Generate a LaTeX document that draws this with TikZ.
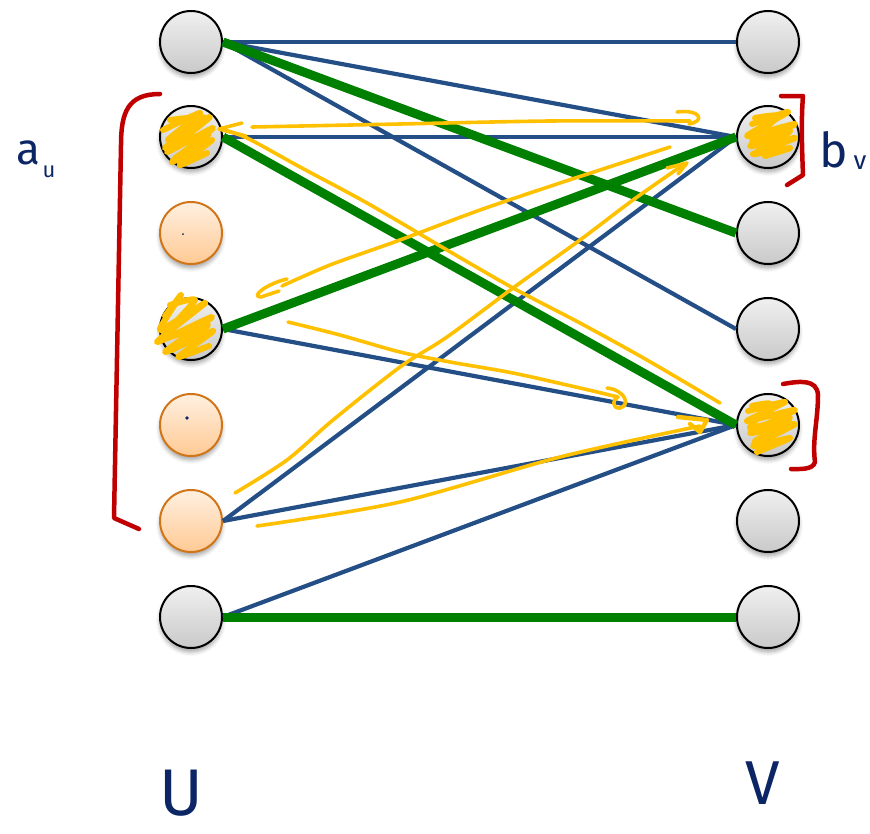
\documentclass[tikz,border=0pt]{standalone}
\usepackage{fontspec}
\newfontfamily\handfont{Fira Sans}
\usetikzlibrary{shadows.blur}
\definecolor{edgeblue}{HTML}{244F86}
\definecolor{matchgreen}{HTML}{008000}
\definecolor{marker}{HTML}{FFC000}
\definecolor{penred}{HTML}{C00000}
\definecolor{ink}{HTML}{0B2565}
\tikzset{
  vert/.style={circle, draw=black, line width=2pt, minimum size=62pt, inner sep=0pt,
    top color=gray!12, bottom color=gray!42,
    blur shadow={shadow xshift=0pt, shadow yshift=-4pt, shadow blur radius=4pt, shadow opacity=35}},
  freevert/.style={vert, draw=orange!80!black!90, top color=orange!12, bottom color=orange!42},
  plain/.style={draw=edgeblue, line width=4.2pt},
  matched/.style={draw=matchgreen, line width=9pt},
  scribble/.style={draw=marker, line width=6pt, line cap=round, line join=round},
  hint/.style={draw=marker, line width=3.6pt, line cap=round, line join=round},
  brace/.style={draw=penred, line width=4.5pt, line cap=round, line join=round},
  hand/.style={text=ink, inner sep=0pt}
}
\begin{document}
\begin{tikzpicture}[x=1pt, y=-1pt]
\useasboundingbox (0,0) rectangle (870,833);

% vertices of U and V
\foreach \i/\yy in {1/42,2/137,3/233,4/329,5/425,6/521,7/617}{
  \coordinate (pu\i) at (191,\yy);
  \coordinate (pv\i) at (768,\yy);
}
\node[vert]     (L1) at (pu1) {};
\node[vert]     (L2) at (pu2) {};
\node[freevert] (L3) at (pu3) {};
\node[vert]     (L4) at (pu4) {};
\node[freevert] (L5) at (pu5) {};
\node[freevert] (L6) at (pu6) {};
\node[vert]     (L7) at (pu7) {};
\foreach \i in {1,...,7}{ \node[vert] (R\i) at (pv\i) {}; }

% unmatched edges
\draw[plain] (L1.east) -- (R1.west);
\draw[plain] (L1.east) -- (R2.west);
\draw[plain] (L1.east) -- (R4.west);
\draw[plain] (L2.east) -- (R2.west);
\draw[plain] (L4.east) -- (R5.west);
\draw[plain] (L6.east) -- (R2.west);
\draw[plain] (L6.east) -- (R5.west);
\draw[plain] (L7.east) -- (R5.west);

% matching
\draw[matched] (L1.east) -- (R3.west);
\draw[matched] (L2.east) -- (R5.west);
\draw[matched] (L4.east) -- (R2.west);
\draw[matched] (L7.east) -- (R7.west);

% small dots inside two free vertices
\fill[ink] (183,234) circle (1pt);
\fill[ink] (187,418) circle (1.8pt);

% marker scribbles on visited vertices
\draw[scribble] plot[smooth, tension=0.35] coordinates {(163,130) (200,113) (168,140) (210,117) (167,152) (213,128) (172,162) (212,140) (180,165) (207,153)};
\draw[scribble] plot[smooth, tension=0.35] coordinates {(170,120) (205,118) (165,148) (208,135) (175,158)};
\draw[scribble] plot[smooth, tension=0.35] coordinates {(165,316) (181,295) (160,330) (205,303) (157,342) (212,317) (165,352) (213,331) (178,357) (209,346)};
\draw[scribble] plot[smooth, tension=0.35] coordinates {(170,305) (195,300) (163,338) (208,325) (172,350)};
\draw[scribble] plot[smooth, tension=0.35] coordinates {(752,124) (788,112) (747,136) (795,124) (750,146) (795,138) (753,154) (790,148) (765,156)};
\draw[scribble] plot[smooth, tension=0.35] coordinates {(755,118) (778,116) (752,141) (790,131) (758,151)};
\draw[scribble] plot[smooth, tension=0.35] coordinates {(748,411) (785,402) (747,421) (795,410) (750,433) (795,424) (753,446) (790,438) (757,452)};
\draw[scribble] plot[smooth, tension=0.35] coordinates {(752,406) (770,404) (750,428) (790,418) (755,441)};

% alternating search strokes
\draw[hint] plot[smooth] coordinates {(252,127) (400,124) (550,121) (690,121)};
\draw[hint] (677,112) .. controls (700,109) and (706,121) .. (689,124);

\draw[hint] plot[smooth] coordinates {(720,403) (647,360) (580,323) (513,288) (447,250) (367,203) (300,167) (247,138) (220,129)};
\draw[hint] (242,123) -- (219,129) -- (246,136);

\draw[hint] plot[smooth] coordinates {(670,147) (600,170) (560,183) (480,210) (400,240) (330,265) (282,286)};
\draw[hint] (287,279) .. controls (266,284) and (250,297) .. (261,297) -- (279,291);

\draw[hint] plot[smooth] coordinates {(288,322) (340,335) (400,352) (450,362) (513,373) (580,388) (618,397)};
\draw[hint] (607,388) .. controls (625,390) and (631,405) .. (620,408) .. controls (612,409) and (612,399) .. (618,397);

\draw[hint] plot[smooth] coordinates {(235,493) (287,460) (333,420) (400,367) (447,337) (513,288) (580,240) (633,200) (683,165)};
\draw[hint] (667,168) -- (687,163) -- (678,174);

\draw[hint] plot[smooth] coordinates {(257,526) (400,502) (560,457) (700,426)};
\draw[hint, line width=4.4pt] (678,417) -- (707,420) -- (700,432) -- (690,424);

% brackets
\draw[brace] (160,94) .. controls (128,94) and (121,112) .. (121,145) -- (114,518) -- (139,529);
\draw[brace] (781,96) -- (803,96) .. controls (801,120) and (802,150) .. (803,175) -- (787,185);
\draw[brace] (783,384) .. controls (800,381) and (817,379) .. (818,395) .. controls (818,420) and (812,440) .. (815,462) .. controls (813,470) and (800,469) .. (791,469);

% labels
\node[hand, font=\handfont\fontsize{44}{44}\selectfont] (au) at (28,153) {a};
\node[hand, font=\handfont\fontsize{22}{22}\selectfont] (ausub) at (49,172) {u};
\node[hand, font=\handfont\fontsize{48}{48}\selectfont] (bv) at (834,150) {b};
\node[hand, font=\handfont\fontsize{26}{26}\selectfont] (bvsub) at (860,163) {v};
\node[hand, font=\handfont\fontsize{66}{66}\selectfont] (uset) at (181,793) {U};
\node[hand, font=\handfont\fontsize{62}{62}\selectfont] (vset) at (763,783) {V};
\end{tikzpicture}
\end{document}
